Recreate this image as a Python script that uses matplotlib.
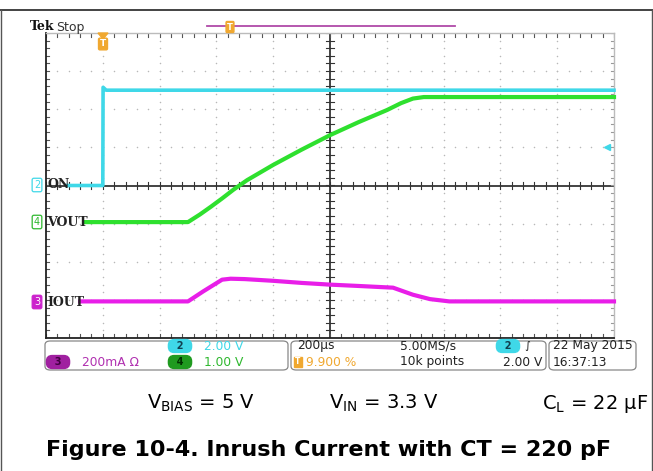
import numpy as np
import matplotlib
matplotlib.use("Agg")
import matplotlib.pyplot as plt
from matplotlib.patches import FancyBboxPatch

plt.rcParams['mathtext.fontset'] = 'custom'
plt.rcParams['mathtext.rm'] = 'DejaVu Sans'

W, H = 653, 471

# scope settings
T_DIV = 200.0          # us / div
ON_SCALE = 2.0         # V / div  (ch2)
VOUT_SCALE = 1.0       # V / div  (ch4)
IOUT_SCALE = 200.0     # mA / div (ch3)
ON_OFFSET = 0.0        # div
VOUT_OFFSET = -0.96
IOUT_OFFSET = -3.04

# ch2  ON  (V)
on_t = [74, 200, 201, 212, 2000]
on_v = [0.0, 0.0, 5.15, 5.0, 5.0]

# ch4  VOUT  (V)
vout_t = [134, 500, 542, 580, 620, 660, 708, 800, 900, 1000, 1100, 1201, 1250, 1292, 1330, 2000]
vout_v = [0.0, 0.0, 0.2, 0.4, 0.62, 0.85, 1.1, 1.5, 1.9, 2.28, 2.62, 2.94, 3.12, 3.24, 3.28, 3.28]

# ch3  IOUT  (mA)
iout_t = [120, 500, 553, 620, 650, 700, 800, 900, 1000, 1100, 1222, 1292, 1352, 1420, 2000]
iout_i = [0, 0, 52, 114, 119, 117, 108, 97, 88, 81, 72, 35, 12, 0, 0]

CYAN = '#3fd8e8'
GREEN = '#2ee02e'
MAGENTA = '#e81ee8'
ORANGE = '#f0a830'


def fx(x):
    return x / W


def fy(y):
    return 1 - y / H


fig = plt.figure(figsize=(W / 100, H / 100), dpi=100)
fig.patch.set_facecolor('white')

# outer frame
fig.add_artist(plt.Line2D([0, 1], [fy(10), fy(10)], color='#222222', lw=1.2))
fig.add_artist(plt.Line2D([fx(1), fx(1)], [0, fy(10)], color='#555555', lw=1.0))
fig.add_artist(plt.Line2D([fx(652), fx(652)], [0, fy(10)], color='#555555', lw=1.0))

ax = fig.add_axes([fx(46), fy(338), (614 - 46) / W, (338 - 33) / H])
ax.set_xlim(0, 10 * T_DIV)
ax.set_ylim(-4, 4)
ax.set_xticks([])
ax.set_yticks([])
for s in ['left', 'bottom']:
    ax.spines[s].set_color('#222222')
    ax.spines[s].set_linewidth(1.3)
for s in ['top', 'right']:
    ax.spines[s].set_color('#bbbbbb')
    ax.spines[s].set_linewidth(1.0)

# graticule dots
dot_c = '#b8b8b8'
minor_y = np.arange(-4, 4.01, 0.2)
minor_x = np.arange(0, 2000.1, 40)
for k in range(1, 10):
    if k == 5:
        continue
    ax.scatter(np.full(minor_y.size, k * T_DIV), minor_y, s=1.2, color=dot_c, lw=0, zorder=1)
for k in range(-3, 4):
    if k == 0:
        continue
    ax.scatter(minor_x, np.full(minor_x.size, k), s=1.2, color=dot_c, lw=0, zorder=1)

# center cross with minor ticks
ax.axhline(0, color='#111111', lw=1.1, zorder=2)
ax.axvline(1000, color='#111111', lw=1.1, zorder=2)
for x in minor_x:
    ax.plot([x, x], [-0.08, 0.08], color='#333333', lw=0.8, zorder=2)
    ax.plot([x, x], [3.9, 4.0], color='#555555', lw=0.8, zorder=2)
    ax.plot([x, x], [-4.0, -3.9], color='#555555', lw=0.8, zorder=2)
for y in minor_y:
    ax.plot([985, 1015], [y, y], color='#333333', lw=0.8, zorder=2)
    ax.plot([0, 12], [y, y], color='#555555', lw=0.8, zorder=2)
    ax.plot([1988, 2000], [y, y], color='#999999', lw=0.8, zorder=2)

# traces
ax.plot(on_t, ON_OFFSET + np.array(on_v) / ON_SCALE, color=CYAN, lw=2.6, zorder=4, clip_on=False)
ax.plot(vout_t, VOUT_OFFSET + np.array(vout_v) / VOUT_SCALE, color=GREEN, lw=3.0, zorder=4, clip_on=False)
ax.plot(iout_t, IOUT_OFFSET + np.array(iout_i) / IOUT_SCALE, color=MAGENTA, lw=3.0, zorder=4, clip_on=False)

# trigger level marker (2.00 V on ch2)
ax.plot([1975], [1.0], marker='<', color=CYAN, ms=5, clip_on=False, zorder=5)

tek = dict(family='DejaVu Sans', fontsize=8.8)


# channel labels on the left
def ch_label(y, num, name, col, filled):
    fig.text(fx(37), fy(y), num, ha='center', va='center', color='white' if filled else col,
             fontsize=7, family='DejaVu Sans',
             bbox=dict(boxstyle='round,pad=0.18', fc=col if filled else 'white', ec=col, lw=0.9))
    fig.text(fx(47), fy(y), name, ha='left', va='center', color='#222222', fontsize=9,
             family='DejaVu Serif', weight='bold')


ch_label(185, '2', 'ON', CYAN, False)
ch_label(222, '4', 'VOUT', '#2fb82f', False)
ch_label(302, '3', 'IOUT', '#cc22cc', True)

# header
fig.text(fx(30), fy(27), 'Tek', fontsize=9, weight='bold', family='DejaVu Serif',
         ha='left', va='center', color='#111111')
fig.text(fx(56), fy(27), 'Stop', fontsize=9, family='DejaVu Sans', ha='left', va='center', color='#333333')
fig.add_artist(plt.Line2D([fx(207), fx(455)], [fy(26), fy(26)], color='#b04aa8', lw=1.3))
fig.text(fx(230), fy(27), 'T', fontsize=6, color='white', ha='center', va='center', weight='bold',
         bbox=dict(boxstyle='round,pad=0.12', fc=ORANGE, ec=ORANGE))
# trigger position marker
fig.add_artist(plt.Polygon([[fx(98), fy(33)], [fx(108), fy(33)], [fx(103), fy(39)]], color=ORANGE))
fig.text(fx(103), fy(44), 'T', fontsize=6.5, color='white', ha='center', va='center', weight='bold',
         bbox=dict(boxstyle='round,pad=0.15', fc=ORANGE, ec=ORANGE))

# status bar
for x0, x1 in [(45, 288), (291, 546), (549, 636)]:
    fig.add_artist(FancyBboxPatch((fx(x0), fy(370)), fx(x1 - x0), (370 - 341) / H,
                                  boxstyle='round,pad=0,rounding_size=0.008',
                                  fc='white', ec='#888888', lw=0.9))


def oval(x, y, s, col, tcol):
    fig.text(fx(x), fy(y), s, ha='center', va='center', fontsize=7, color=tcol, weight='bold',
             bbox=dict(boxstyle='round,pad=0.15,rounding_size=0.6', fc=col, ec=col))


oval(58, 362, '  3  ', '#a020a0', '#400040')
fig.text(fx(82), fy(362), '200mA \u03a9', color='#b030b0', ha='left', va='center', **tek)
oval(180, 346, '  2  ', CYAN, '#104050')
fig.text(fx(204), fy(346), '2.00 V', color=CYAN, ha='left', va='center', **tek)
oval(180, 362, '  4  ', '#1f9a1f', '#003000')
fig.text(fx(204), fy(362), '1.00 V', color='#2fb82f', ha='left', va='center', **tek)

fig.text(fx(297), fy(346), '200\u00b5s', color='#222222', ha='left', va='center', **tek)
fig.text(fx(298), fy(362), 'T', fontsize=5.5, color='white', ha='center', va='center', weight='bold',
         bbox=dict(boxstyle='square,pad=0.12', fc=ORANGE, ec=ORANGE))
fig.text(fx(306), fy(362), '9.900 %', color=ORANGE, ha='left', va='center', **tek)
fig.text(fx(400), fy(346), '5.00MS/s', color='#222222', ha='left', va='center', **tek)
fig.text(fx(400), fy(362), '10k points', color='#222222', ha='left', va='center', **tek)
oval(508, 346, '  2  ', CYAN, '#104050')
fig.text(fx(527), fy(346), '\u222b', color='#222222', ha='center', va='center', fontsize=8)
fig.text(fx(542), fy(362), '2.00 V', color='#222222', ha='right', va='center', **tek)
fig.text(fx(553), fy(346), '22 May 2015', color='#222222', ha='left', va='center', **tek)
fig.text(fx(553), fy(362), '16:37:13', color='#222222', ha='left', va='center', **tek)

# conditions and caption
cond = dict(fontsize=14, family='DejaVu Sans', va='baseline', color='black')
fig.text(fx(147), fy(409), r'V$_{\mathrm{BIAS}}$ = 5 V', ha='left', **cond)
fig.text(fx(329), fy(409), r'V$_{\mathrm{IN}}$ = 3.3 V', ha='left', **cond)
fig.text(fx(648), fy(409), 'C$_{\\mathrm{L}}$ = 22 \u00b5F', ha='right', **cond)
fig.text(fx(329), fy(456), 'Figure 10-4. Inrush Current with CT = 220 pF', ha='center', va='baseline',
         fontsize=16, family='DejaVu Sans', weight='bold', color='black')

fig.savefig('out.png', dpi=100)
